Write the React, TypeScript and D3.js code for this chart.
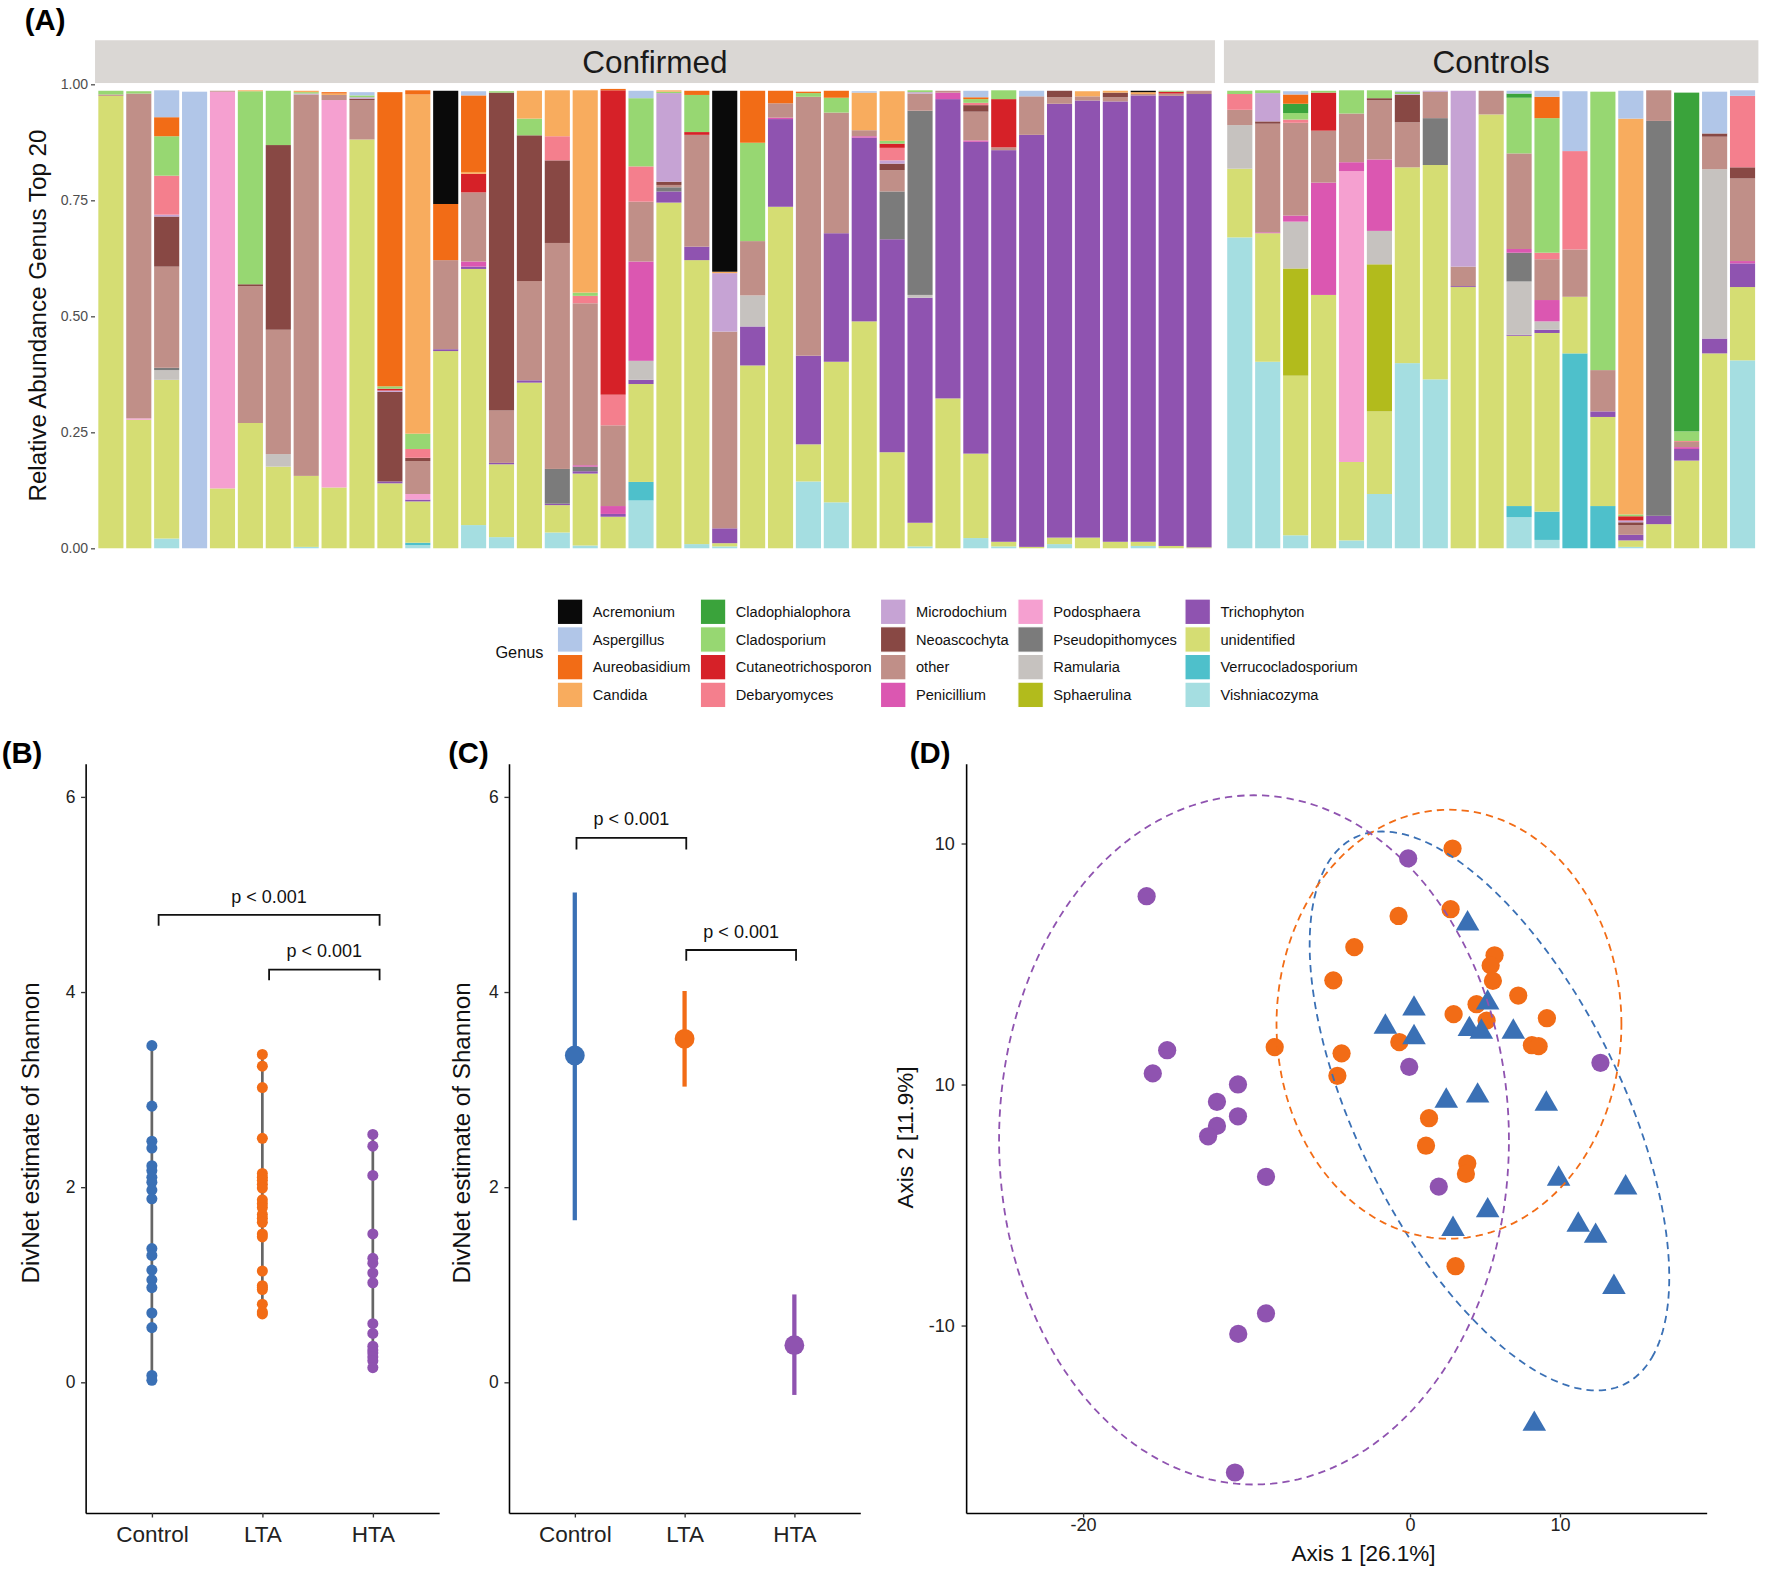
import { useEffect, useRef } from 'react';
import * as d3 from 'd3';

// ---- Panel A: relative abundance, genus top 20 ----
const genera = [
  'Acremonium', 'Aspergillus', 'Aureobasidium', 'Candida', 'Cladophialophora',
  'Cladosporium', 'Cutaneotrichosporon', 'Debaryomyces', 'Microdochium', 'Neoascochyta',
  'other', 'Penicillium', 'Podosphaera', 'Pseudopithomyces', 'Ramularia',
  'Sphaerulina', 'Trichophyton', 'unidentified', 'Verrucocladosporium', 'Vishniacozyma',
];
const genusCodes = [
  'Acr', 'Asp', 'Aur', 'Can', 'Cph', 'Cla', 'Cut', 'Deb', 'Mic', 'Neo',
  'oth', 'Pen', 'Pod', 'Pse', 'Ram', 'Sph', 'Tri', 'uni', 'Ver', 'Vis',
];
const genusColors = [
  '#0A0A0A', '#B1C6E8', '#F26C16', '#F8AC5E', '#3AA33B',
  '#97D772', '#D62128', '#F47F8D', '#C6A3D4', '#884844',
  '#C08F88', '#DB57B1', '#F5A0D0', '#7B7B7B', '#C6C2BF',
  '#B2BB1C', '#8F53B0', '#D5DD73', '#4EC0CB', '#A5DEE1',
];

type Sample = Record<string, number>;

const confirmedSamples: Sample[] = [
  { Cla: 0.008, oth: 0.003, uni: 0.975 },
  { Cla: 0.005, oth: 0.70, Pod: 0.003, uni: 0.277 },
  { Asp: 0.058, Aur: 0.041, Cla: 0.085, Deb: 0.084, Mic: 0.004, Neo: 0.108, oth: 0.218, Pse: 0.005, Ram: 0.021, uni: 0.342, Vis: 0.021 },
  { Asp: 0.984 },
  { oth: 0.002, Pod: 0.855, uni: 0.129 },
  { Can: 0.002, Cla: 0.416, Neo: 0.004, oth: 0.295, uni: 0.27 },
  { Cla: 0.117, Neo: 0.398, oth: 0.268, Ram: 0.027, uni: 0.176 },
  { Can: 0.003, Cla: 0.003, Mic: 0.002, oth: 0.822, uni: 0.153, Vis: 0.003 },
  { Aur: 0.003, Can: 0.003, oth: 0.011, Pod: 0.835, uni: 0.131 },
  { Asp: 0.007, Cla: 0.004, Neo: 0.003, oth: 0.085, Mic: 0.003, uni: 0.881 },
  { Aur: 0.634, Cla: 0.005, Cut: 0.004, Neo: 0.193, Mic: 0.003, Tri: 0.004, uni: 0.14 },
  { Aur: 0.009, Can: 0.731, Cla: 0.033, Deb: 0.019, Neo: 0.007, oth: 0.071, Pod: 0.012, Tri: 0.004, uni: 0.089, Ver: 0.005, Vis: 0.007 },
  { Acr: 0.244, Aur: 0.121, oth: 0.192, Tri: 0.004, uni: 0.425 },
  { Asp: 0.009, Aur: 0.165, Can: 0.004, Cut: 0.04, oth: 0.149, Pen: 0.011, Tri: 0.005, uni: 0.552, Vis: 0.05 },
  { Cla: 0.003, Neo: 0.685, oth: 0.113, Tri: 0.003, uni: 0.157, Vis: 0.024 },
  { Can: 0.06, Cla: 0.036, Neo: 0.314, oth: 0.214, Tri: 0.005, uni: 0.357 },
  { Can: 0.099, Deb: 0.052, Neo: 0.178, oth: 0.487, Pse: 0.075, Tri: 0.003, uni: 0.059, Vis: 0.034 },
  { Can: 0.436, Cla: 0.007, Deb: 0.016, oth: 0.349, Pen: 0.003, Pse: 0.01, Tri: 0.005, uni: 0.155, Vis: 0.006 },
  { Aur: 0.003, Cut: 0.656, Deb: 0.066, oth: 0.174, Pen: 0.017, Tri: 0.006, uni: 0.068 },
  { Asp: 0.016, Cla: 0.147, Deb: 0.076, oth: 0.129, Pen: 0.214, Ram: 0.041, Tri: 0.009, uni: 0.211, Ver: 0.04, Vis: 0.103 },
  { Can: 0.003, Cla: 0.003, Mic: 0.191, Neo: 0.007, oth: 0.005, Pse: 0.009, Tri: 0.024, uni: 0.745 },
  { Aur: 0.009, Cla: 0.08, Cut: 0.006, oth: 0.241, Tri: 0.029, uni: 0.612, Vis: 0.009 },
  { Acr: 0.39, Can: 0.003, Mic: 0.126, oth: 0.424, Tri: 0.032, uni: 0.007, Vis: 0.004 },
  { Aur: 0.112, Cla: 0.212, oth: 0.117, Ram: 0.067, Tri: 0.084, uni: 0.394 },
  { Aur: 0.027, oth: 0.031, Pen: 0.003, Tri: 0.189, uni: 0.736 },
  { Aur: 0.003, Cla: 0.008, oth: 0.558, Tri: 0.191, uni: 0.08, Vis: 0.144 },
  { Aur: 0.015, Cla: 0.032, oth: 0.26, Tri: 0.277, uni: 0.303, Vis: 0.099 },
  { Asp: 0.003, Can: 0.081, oth: 0.013, Pen: 0.003, Tri: 0.396, uni: 0.489 },
  { Can: 0.107, Cla: 0.006, Cut: 0.009, Deb: 0.027, Mic: 0.007, Neo: 0.014, oth: 0.046, Pse: 0.103, Tri: 0.459, uni: 0.207 },
  { Cla: 0.004, oth: 0.037, Mic: 0.003, Pse: 0.397, Ram: 0.006, Tri: 0.485, uni: 0.051, Vis: 0.004 },
  { oth: 0.004, Pen: 0.014, Tri: 0.645, uni: 0.323 },
  { Asp: 0.014, Aur: 0.004, Cla: 0.008, Deb: 0.005, Neo: 0.014, oth: 0.062, Pen: 0.003, Tri: 0.672, uni: 0.182, Vis: 0.022 },
  { Cla: 0.019, Cut: 0.104, oth: 0.006, Tri: 0.844, uni: 0.01, Vis: 0.004 },
  { Asp: 0.012, oth: 0.083, Tri: 0.888, uni: 0.003 },
  { Neo: 0.014, oth: 0.014, Tri: 0.935, uni: 0.014, Vis: 0.009 },
  { Can: 0.011, oth: 0.009, Tri: 0.942, uni: 0.023 },
  { Can: 0.004, Neo: 0.01, oth: 0.009, Tri: 0.949, uni: 0.014 },
  { Acr: 0.003, Can: 0.004, oth: 0.003, Tri: 0.962, uni: 0.009, Vis: 0.005 },
  { Cla: 0.002, Cut: 0.004, oth: 0.005, Tri: 0.97, uni: 0.005 },
  { oth: 0.007, Tri: 0.977, uni: 0.002 },
];

const controlSamples: Sample[] = [
  { Cla: 0.007, Deb: 0.034, oth: 0.033, Ram: 0.094, uni: 0.148, Vis: 0.67 },
  { Cla: 0.006, Mic: 0.061, Neo: 0.005, oth: 0.234, Pen: 0.002, uni: 0.277, Vis: 0.402 },
  { Asp: 0.007, Aur: 0.02, Cph: 0.02, Cla: 0.014, Deb: 0.007, oth: 0.2, Pen: 0.013, Ram: 0.101, Sph: 0.231, uni: 0.344, Vis: 0.028 },
  { Cla: 0.004, Cut: 0.082, oth: 0.112, Pen: 0.242, uni: 0.546 },
  { Cla: 0.05, oth: 0.105, Pen: 0.019, Pod: 0.627, uni: 0.169, Vis: 0.017 },
  { Cla: 0.017, Neo: 0.004, oth: 0.128, Pen: 0.154, Ram: 0.072, Sph: 0.317, uni: 0.178, Vis: 0.117 },
  { Asp: 0.002, Cla: 0.005, Neo: 0.059, oth: 0.097, Mic: 0.002, uni: 0.422, Vis: 0.399 },
  { oth: 0.057, Pse: 0.101, Mic: 0.002, uni: 0.462, Vis: 0.364 },
  { Mic: 0.379, oth: 0.042, Tri: 0.002, uni: 0.563 },
  { oth: 0.051, uni: 0.935 },
  { Asp: 0.006, Cph: 0.009, Cla: 0.12, oth: 0.206, Pen: 0.008, Pse: 0.062, Ram: 0.115, Tri: 0.002, uni: 0.367, Ver: 0.024, Vis: 0.067 },
  { Asp: 0.013, Aur: 0.046, Cla: 0.29, Deb: 0.014, oth: 0.088, Pen: 0.046, Ram: 0.018, Tri: 0.007, uni: 0.385, Ver: 0.061, Vis: 0.018 },
  { Asp: 0.129, Deb: 0.212, oth: 0.102, uni: 0.122, Ver: 0.42 },
  { Cla: 0.6, oth: 0.089, Tri: 0.012, uni: 0.192, Ver: 0.091 },
  { Asp: 0.06, Can: 0.853, Cla: 0.004, Cut: 0.009, Neo: 0.006, oth: 0.021, Mic: 0.004, Tri: 0.012, uni: 0.014, Vis: 0.003 },
  { oth: 0.066, Pse: 0.851, Tri: 0.018, uni: 0.052 },
  { Cph: 0.73, Cla: 0.021, Deb: 0.002, oth: 0.011, Pen: 0.004, Tri: 0.025, uni: 0.189 },
  { Asp: 0.09, Neo: 0.007, oth: 0.07, Ram: 0.365, Tri: 0.032, uni: 0.42 },
  { Asp: 0.012, Deb: 0.154, Neo: 0.024, oth: 0.178, Pen: 0.005, Tri: 0.051, uni: 0.158, Vis: 0.405 },
];

const facetNames = ['Confirmed', 'Controls'];
const yTicksA = [0, 0.25, 0.5, 0.75, 1];

// ---- Panels B-D ----
const groups = ['Control', 'LTA', 'HTA'];
const groupColors = ['#3A70B5', '#F26C16', '#8F53B0'];

const controlShannon = [3.45, 2.83, 2.47, 2.4, 2.22, 2.17, 2.1, 2.05, 1.97, 1.88, 1.37, 1.3, 1.15, 1.05, 0.97, 0.71, 0.56, 0.07, 0.02];
const ltaShannon = [3.36, 3.24, 3.02, 2.5, 2.14, 2.1, 2.07, 2.03, 1.99, 1.87, 1.83, 1.79, 1.72, 1.68, 1.64, 1.52, 1.49, 1.14, 0.99, 0.97, 0.95, 0.8, 0.72, 0.7];
const htaShannon = [2.54, 2.42, 2.12, 1.52, 1.27, 1.22, 1.12, 1.02, 0.6, 0.5, 0.37, 0.33, 0.3, 0.26, 0.22, 0.15];
const yTicksBC = [0, 2, 4, 6];

const divnetEstimate = [3.35, 3.52, 0.38];
const divnetLower = [1.66, 3.03, -0.13];
const divnetUpper = [5.02, 4.01, 0.9];

// [from, to, bracket level, tip level]
const bracketsB: [string, string, number, number][] = [
  ['Control', 'HTA', 4.79, 4.68],
  ['LTA', 'HTA', 4.23, 4.12],
];
const bracketsC: [string, string, number, number][] = [
  ['Control', 'LTA', 5.58, 5.46],
  ['LTA', 'HTA', 4.43, 4.32],
];

const pcoaControl: [number, number][] = [
  [3.84, 6.67], [0.27, 3.14], [5.18, 3.39], [-1.64, 2.39], [0.27, 1.95], [3.96, 2.29], [4.76, 2.18],
  [6.89, 2.18], [2.42, -0.68], [4.51, -0.47], [9.09, -0.81], [9.91, -3.92], [14.38, -4.28], [5.18, -5.23],
  [2.87, -6.0], [11.22, -5.83], [12.38, -6.29], [13.6, -8.41], [8.29, -14.09],
];
const pcoaLTA: [number, number][] = [
  [2.84, 9.79], [-0.76, 6.99], [2.71, 7.27], [-3.71, 5.7], [-5.11, 4.32], [5.64, 5.36], [5.38, 4.94],
  [5.53, 4.3], [7.22, 3.69], [4.44, 3.33], [2.91, 2.92], [5.11, 2.65], [9.13, 2.75], [-9.02, 1.55],
  [-4.56, 1.29], [-0.71, 1.76], [-4.84, 0.36], [8.13, 1.63], [8.58, 1.59], [1.27, -1.4], [1.07, -2.54],
  [3.82, -3.28], [3.73, -3.71], [3.04, -7.54],
];
const pcoaHTA: [number, number][] = [
  [-17.56, 7.81], [-0.12, 9.38], [-16.19, 1.42], [-17.15, 0.46], [-11.47, 0.0], [-12.87, -0.72],
  [-11.47, -1.32], [-12.87, -1.72], [-13.46, -2.15], [-9.6, -3.83], [-0.05, 0.73], [1.92, -4.24],
  [-9.6, -9.5], [-11.45, -10.35], [-11.67, -16.1], [12.7, 0.9],
];
// dashed ellipses: centre x, centre y, semi-major, semi-minor, angle (deg, data units)
const ellipseParams: [number, number, number, number, number][] = [
  [5.3, -1.1, 14.9, 7.5, -43.4],
  [2.6, 2.5, 11.5, 8.9, 0],
  [-10.4, -2.3, 17.0, 14.3, 0],
];
// tick positions as printed on the figure's axes
const dXTicks = [-21.8, 0, 10];
const dXLabels = ['-20', '0', '10'];
const dYTicks = [10, 0, -10];
const dYLabels = ['10', '10', '-10'];

const FONT = "'Liberation Sans', Arial, Helvetica, sans-serif";

export default function App() {
  const svgRef = useRef<SVGSVGElement>(null);

  useEffect(() => {
    if (!svgRef.current) return;
    const svg = d3.select(svgRef.current);
    svg.selectAll('*').remove();
    svg.attr('font-family', FONT);

    const colorOf = d3.scaleOrdinal<string, string>().domain(genusCodes).range(genusColors);

    // ========== (A) ==========
    const yA = d3.scaleLinear().domain([0, 1]).range([486.7, 74.6]);
    const facets = [
      { name: facetNames[0], samples: confirmedSamples, x0: 84.4, x1: 1079 },
      { name: facetNames[1], samples: controlSamples, x0: 1087, x1: 1561.7 },
    ];
    const stackKeys = [...genusCodes].reverse();

    facets.forEach(f => {
      const g = svg.append('g');
      g.append('rect')
        .attr('x', f.x0).attr('y', 35.5)
        .attr('width', f.x1 - f.x0).attr('height', 38)
        .attr('fill', '#DAD7D4');
      g.append('text')
        .attr('x', (f.x0 + f.x1) / 2).attr('y', 64.5)
        .attr('text-anchor', 'middle')
        .attr('font-size', 28)
        .attr('fill', '#1A1A1A')
        .text(f.name);

      const x = d3.scaleBand<number>()
        .domain(d3.range(f.samples.length))
        .range([f.x0, f.x1])
        .paddingInner(0.1)
        .paddingOuter(0.118);

      const rows = f.samples.map(s => {
        const r: Record<string, number> = {};
        genusCodes.forEach(c => { r[c] = s[c] ?? 0; });
        return r;
      });
      const series = d3.stack<Record<string, number>>().keys(stackKeys)(rows);

      series.forEach(s => {
        g.append('g')
          .selectAll('rect')
          .data(s.map((d, i) => ({ d, i })).filter(o => o.d[1] - o.d[0] > 0))
          .join('rect')
          .attr('x', o => x(o.i)!)
          .attr('width', x.bandwidth())
          .attr('y', o => yA(o.d[1]))
          .attr('height', o => yA(o.d[0]) - yA(o.d[1]))
          .attr('fill', colorOf(s.key));
      });
    });

    const axA = svg.append('g')
      .attr('transform', 'translate(84.4,0)')
      .call(d3.axisLeft(yA).tickValues(yTicksA).tickFormat(d3.format('.2f')).tickSize(3.6).tickPadding(2.5));
    axA.select('.domain').remove();
    axA.selectAll('line').attr('stroke', '#333').attr('stroke-width', 1);
    axA.selectAll('text').attr('font-size', 12.5).attr('fill', '#4D4D4D').attr('font-family', FONT);

    svg.append('text')
      .attr('transform', 'translate(40.5,280) rotate(-90)')
      .attr('text-anchor', 'middle')
      .attr('font-size', 21.5)
      .attr('fill', '#111')
      .text('Relative Abundance Genus Top 20');

    // legend
    const legCols = [495, 622, 782, 904, 1052.4];
    const legTop = 531.8;
    const legStep = 24.6;
    const leg = svg.append('g');
    leg.append('text')
      .attr('x', 440).attr('y', 584)
      .attr('font-size', 14.5)
      .attr('fill', '#111')
      .text('Genus');
    genera.forEach((name, i) => {
      const col = Math.floor(i / 4);
      const row = i % 4;
      const lx = legCols[col];
      const ly = legTop + row * legStep;
      leg.append('rect')
        .attr('x', lx).attr('y', ly)
        .attr('width', 22.6).attr('height', 22.6)
        .attr('fill', genusColors[i])
        .attr('stroke', '#fff').attr('stroke-width', 1);
      leg.append('text')
        .attr('x', lx + 31.5).attr('y', ly + 16)
        .attr('font-size', 13)
        .attr('fill', '#111')
        .text(name);
    });

    // ========== shared for B/C ==========
    const yBC = d3.scaleLinear().domain([-1.34, 6.34]).range([1343.5, 678]);

    const drawAxes = (
      xs: d3.ScalePoint<string>,
      left: number,
      titleX: number,
    ) => {
      const ay = svg.append('g')
        .attr('transform', `translate(${left},0)`)
        .call(d3.axisLeft(yBC).tickValues(yTicksBC).tickSize(4).tickSizeOuter(0).tickPadding(5));
      const ax = svg.append('g')
        .attr('transform', 'translate(0,1343.5)')
        .call(d3.axisBottom(xs).tickSize(4).tickSizeOuter(0).tickPadding(5));
      [ay, ax].forEach(a => {
        a.select('.domain').attr('stroke', '#000').attr('stroke-width', 1.4);
        a.selectAll('line').attr('stroke', '#333').attr('stroke-width', 1.2);
        a.selectAll('text').attr('font-family', FONT).attr('fill', '#222');
      });
      ay.selectAll('text').attr('font-size', 15.5);
      ax.selectAll('text').attr('font-size', 20).attr('dy', '0.85em');
      svg.append('text')
        .attr('transform', `translate(${titleX},1006) rotate(-90)`)
        .attr('text-anchor', 'middle')
        .attr('font-size', 21.5)
        .attr('fill', '#111')
        .text('DivNet estimate of Shannon');
    };

    const drawBrackets = (
      xs: d3.ScalePoint<string>,
      list: [string, string, number, number][],
      shift: number,
    ) => {
      list.forEach(([a, b, lvl, tip]) => {
        const x1 = xs(a)! + shift;
        const x2 = xs(b)! + shift;
        svg.append('path')
          .attr('d', `M${x1},${yBC(tip)}V${yBC(lvl)}H${x2}V${yBC(tip)}`)
          .attr('fill', 'none')
          .attr('stroke', '#111')
          .attr('stroke-width', 1.6);
        svg.append('text')
          .attr('x', (x1 + x2) / 2).attr('y', yBC(lvl) - 11)
          .attr('text-anchor', 'middle')
          .attr('font-size', 16)
          .attr('fill', '#111')
          .text('p < 0.001');
      });
    };

    // ========== (B) ==========
    const xB = d3.scalePoint<string>().domain(groups).range([76, 390]).padding(0.6);
    drawAxes(xB, 76, 35);
    const shannonByGroup = [controlShannon, ltaShannon, htaShannon];
    groups.forEach((grp, gi) => {
      const vals = shannonByGroup[gi];
      const [lo, hi] = d3.extent(vals) as [number, number];
      svg.append('line')
        .attr('x1', xB(grp)!).attr('x2', xB(grp)!)
        .attr('y1', yBC(lo)).attr('y2', yBC(hi))
        .attr('stroke', '#666').attr('stroke-width', 2.4);
      svg.append('g')
        .selectAll('circle')
        .data(vals)
        .join('circle')
        .attr('cx', xB(grp)!)
        .attr('cy', d => yBC(d))
        .attr('r', 4.9)
        .attr('fill', groupColors[gi]);
    });
    drawBrackets(xB, bracketsB, 6);

    // ========== (C) ==========
    const xC = d3.scalePoint<string>().domain(groups).range([452, 764]).padding(0.6);
    drawAxes(xC, 452, 417);
    groups.forEach((grp, gi) => {
      svg.append('line')
        .attr('x1', xC(grp)!).attr('x2', xC(grp)!)
        .attr('y1', yBC(divnetLower[gi])).attr('y2', yBC(divnetUpper[gi]))
        .attr('stroke', groupColors[gi]).attr('stroke-width', 3.8);
      svg.append('circle')
        .attr('cx', xC(grp)!).attr('cy', yBC(divnetEstimate[gi]))
        .attr('r', 8.8)
        .attr('fill', groupColors[gi]);
    });
    drawBrackets(xC, bracketsC, 1.5);

    // ========== (D) ==========
    const xD = d3.scaleLinear().domain([-29.6, 19.78]).range([858, 1515.7]);
    const yD = d3.scaleLinear().domain([13.31, -17.78]).range([678, 1343.5]);

    const dAy = svg.append('g')
      .attr('transform', 'translate(858,0)')
      .call(d3.axisLeft(yD).tickValues(dYTicks).tickFormat((_, i) => dYLabels[i]).tickSize(4).tickSizeOuter(0).tickPadding(6));
    const dAx = svg.append('g')
      .attr('transform', 'translate(0,1343.5)')
      .call(d3.axisBottom(xD).tickValues(dXTicks).tickFormat((_, i) => dXLabels[i]).tickSize(4).tickSizeOuter(0).tickPadding(3));
    [dAy, dAx].forEach(a => {
      a.select('.domain').attr('stroke', '#000').attr('stroke-width', 1.4);
      a.selectAll('line').attr('stroke', '#333').attr('stroke-width', 1.2);
      a.selectAll('text').attr('font-family', FONT).attr('fill', '#222').attr('font-size', 16);
    });
    dAx.selectAll('text').attr('dy', '0.55em');

    svg.append('text')
      .attr('x', 1211).attr('y', 1386)
      .attr('text-anchor', 'middle')
      .attr('font-size', 20)
      .attr('fill', '#111')
      .text('Axis 1 [26.1%]');
    svg.append('text')
      .attr('transform', 'translate(811,1010) rotate(-90)')
      .attr('text-anchor', 'middle')
      .attr('font-size', 20)
      .attr('fill', '#111')
      .text('Axis 2 [11.9%]');

    const circleSym = d3.symbol().type(d3.symbolCircle).size(Math.PI * 8.1 * 8.1);
    const triSym = d3.symbol().type(d3.symbolTriangle).size(190);
    const pts = [pcoaControl, pcoaLTA, pcoaHTA];
    [2, 1, 0].forEach(gi => {
      svg.append('g')
        .selectAll('path')
        .data(pts[gi])
        .join('path')
        .attr('transform', d => `translate(${xD(d[0])},${yD(d[1])})`)
        .attr('d', gi === 0 ? triSym() : circleSym())
        .attr('fill', groupColors[gi]);
    });

    ellipseParams.forEach(([cx, cy, a, b, ang], gi) => {
      const th = (ang * Math.PI) / 180;
      const ts = d3.range(0, 2 * Math.PI + 0.001, Math.PI / 90);
      const line = d3.line<number>()
        .x(t => xD(cx + a * Math.cos(t) * Math.cos(th) - b * Math.sin(t) * Math.sin(th)))
        .y(t => yD(cy + a * Math.cos(t) * Math.sin(th) + b * Math.sin(t) * Math.cos(th)))
        .curve(d3.curveLinearClosed);
      svg.append('path')
        .attr('d', line(ts))
        .attr('fill', 'none')
        .attr('stroke', groupColors[gi])
        .attr('stroke-width', 1.6)
        .attr('stroke-dasharray', '6.5 4.5');
    });

    // panel tags
    const tags: [string, number, number][] = [
      ['(A)', 22, 26], ['(B)', 1.5, 677], ['(C)', 398, 677], ['(D)', 808, 677],
    ];
    tags.forEach(([t, x, y]) => {
      svg.append('text')
        .attr('x', x).attr('y', y)
        .attr('font-size', 26)
        .attr('font-weight', 'bold')
        .attr('fill', '#000')
        .text(t);
    });
  }, []);

  return (
    <div style={{ position: 'absolute', left: 0, top: 0, background: '#fff' }}>
      <svg ref={svgRef} width={1770} height={1569} viewBox="0 0 1572 1393" />
    </div>
  );
}
